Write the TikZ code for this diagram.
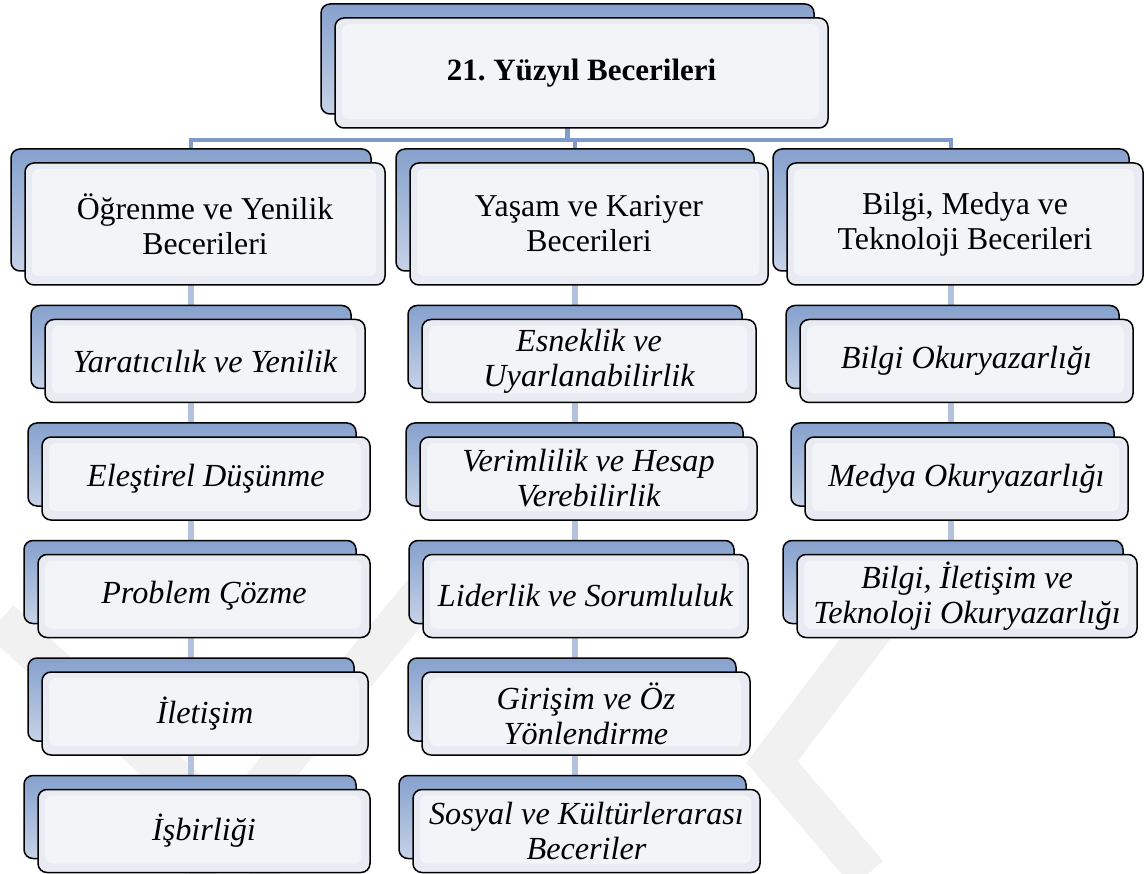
\documentclass[tikz,border=0pt]{standalone}
\usepackage{fontspec}
\setmainfont{Liberation Serif}
\frenchspacing
\usetikzlibrary{calc}
\definecolor{shtop}{HTML}{86A1CD}
\definecolor{shbot}{HTML}{C6D2E7}
\definecolor{frfill}{HTML}{E8ECF2}
\definecolor{frinner}{HTML}{F2F4F8}
\definecolor{mainln}{HTML}{7E9BCC}
\definecolor{childln}{HTML}{B3C2DD}
\definecolor{wmark}{HTML}{F1F1F1}
\pgfdeclarelayer{bg}
\pgfsetlayers{bg,main}
\tikzset{
  boxbase/.style={rounded corners=9pt, draw=black, line width=1.5pt, inner sep=0pt, anchor=center},
  backbox/.style={boxbase, top color=shtop, bottom color=shbot},
  frontbox/.style={boxbase, fill=frfill, align=center, font=\fontsize{31.8}{35}\selectfont,
    path picture={\fill[frinner, rounded corners=7pt] ([xshift=7pt,yshift=9pt]path picture bounding box.south west) rectangle ([xshift=-9pt,yshift=-6pt]path picture bounding box.north east);}},
  titlebox/.style={frontbox, font=\fontsize{31}{35}\selectfont\bfseries},
  childbox/.style={frontbox, font=\fontsize{32.2}{35}\selectfont\itshape},
  mainline/.style={mainln, line width=4.5pt, line cap=rect},
  childline/.style={childln, line width=6pt},
  wm/.style={wmark, line width=40pt, line join=miter},
}
\newcommand\skbox[7]{%
  \node[backbox, minimum width=#4pt, minimum height=#5pt] (#1s) at (#2-14,#3-14) {};
  \node[#6, minimum width=#4pt, minimum height=#5pt] (#1) at (#2,#3) {#7};
}
\begin{document}
\begin{tikzpicture}[x=1pt,y=-1pt]
\useasboundingbox (0,0) rectangle (1146,874);
% top
\skbox{top}{581.5}{73}{493}{110}{titlebox}{21. Yüzyıl Becerileri}
% level 2
\skbox{La}{205}{224}{360}{122}{frontbox}{Öğrenme ve Yenilik\\Becerileri}
\skbox{Lb}{589}{224}{358}{122}{frontbox}{Yaşam ve Kariyer\\Becerileri}
\skbox{Lc}{965}{224}{356}{122}{frontbox}{Bilgi, Medya ve\\Teknoloji Becerileri}
% column a
\skbox{a1}{205}{361}{320}{83}{childbox}{Yaratıcılık ve Yenilik}
\skbox{a2}{206}{478.5}{328}{83}{childbox}{Eleştirel Düşünme}
\skbox{a3}{204}{596}{332}{83}{childbox}{Problem Çözme}
\skbox{a4}{205}{713.5}{326}{83}{childbox}{İletişim}
\skbox{a5}{204}{831}{332}{83}{childbox}{İşbirliği}
% column b
\skbox{b1}{589}{361}{334}{83}{childbox}{Esneklik ve\\Uyarlanabilirlik}
\skbox{b2}{588.5}{478.5}{337}{83}{childbox}{Verimlilik ve Hesap\\Verebilirlik}
\skbox{b3}{585.5}{596}{325}{83}{childbox}{Liderlik ve Sorumluluk}
\skbox{b4}{586}{713.5}{328}{83}{childbox}{Girişim ve Öz\\Yönlendirme}
\skbox{b5}{586.5}{831}{347}{83}{childbox}{Sosyal ve Kültürlerarası\\Beceriler}
% column c
\skbox{c1}{966.5}{361}{333}{83}{childbox}{Bilgi Okuryazarlığı}
\skbox{c2}{966.5}{478.5}{323}{83}{childbox}{Medya Okuryazarlığı}
\skbox{c3}{967}{596}{340}{83}{childbox}{Bilgi, İletişim ve\\Teknoloji Okuryazarlığı}

\begin{pgfonlayer}{bg}
  % faint watermark
  \draw[wm] (0,620) -- (280,874);
  \draw[wm] (450,560) -- (190,874);
  \draw[wm] (925,560) -- (772,762) -- (868,874);
  % connectors
  \coordinate (hub) at (tops.south |- 0,140);
  \draw[mainline] (tops.south) -- (hub);
  \draw[mainline] (Las.north |- hub) -- (Lcs.north |- hub);
  \draw[mainline] (Las.north |- hub) -- (Las.north);
  \draw[mainline] (Lbs.north |- hub) -- (Lbs.north);
  \draw[mainline] (Lcs.north |- hub) -- (Lcs.north);
  \foreach \c in {a1,a2,a3,a4,a5} \draw[childline] (Las.south) -- (Las.south |- \c s.north);
  \foreach \c in {b1,b2,b3,b4,b5} \draw[childline] (Lbs.south) -- (Lbs.south |- \c s.north);
  \foreach \c in {c1,c2,c3} \draw[childline] (Lcs.south) -- (Lcs.south |- \c s.north);
\end{pgfonlayer}
\end{tikzpicture}
\end{document}
